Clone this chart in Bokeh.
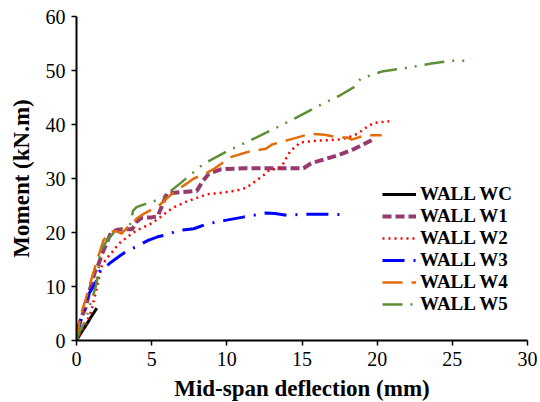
from bokeh.plotting import figure
from bokeh.models import Range1d, Legend, LegendItem, FixedTicker
from bokeh.embed import file_html
from bokeh.resources import INLINE

# ---- data (mid-span deflection in mm, moment in kN.m) ----
wc_x = [0, 0.3, 0.7, 1.0, 1.35]
wc_y = [0, 1.4, 3.1, 4.5, 6.0]

w1_x = [0, 0.15, 0.35, 0.6, 0.9, 1.2, 1.45, 1.7, 2.0, 2.3, 2.7, 3.2, 3.7, 4.0, 4.3, 5.0, 5.4, 5.7, 6.0, 7.0, 8.0, 8.4, 8.8, 9.6, 11.2, 13.0, 15.1, 15.6, 16.3, 17.4, 18.5, 19.7]
w1_y = [0, 2.5, 4.5, 6.0, 9.5, 12.5, 14.0, 16.0, 18.0, 20.0, 20.5, 20.6, 20.6, 22.0, 22.7, 22.8, 23.0, 25.0, 27.2, 27.5, 27.7, 29.5, 30.9, 31.7, 31.9, 31.9, 31.9, 32.8, 33.4, 34.3, 35.5, 37.2]

w2_x = [0, 0.3, 0.6, 0.9, 1.05, 1.27, 1.5, 1.7, 2.0, 2.3, 2.8, 3.4, 4.0, 4.7, 5.0, 5.6, 6.0, 6.5, 7.2, 8.0, 8.7, 9.5, 10.7, 11.3, 11.9, 12.4, 12.8, 13.6, 13.9, 14.2, 14.9, 16.0, 17.4, 18.0, 18.7, 19.3, 19.8, 20.8]
w2_y = [0, 1.5, 3.0, 4.8, 6.2, 8.7, 11.7, 13.9, 15.2, 16.1, 17.9, 19.2, 20.4, 21.3, 21.7, 22.9, 23.8, 24.7, 25.6, 26.4, 27.1, 27.3, 27.8, 28.3, 29.5, 30.5, 31.5, 32.0, 33.5, 35.0, 36.7, 37.0, 37.2, 37.5, 38.3, 39.5, 40.3, 40.6]

w3_x = [0, 0.1, 0.25, 0.5, 0.8, 1.1, 1.4, 1.6, 2.0, 2.3, 2.8, 3.4, 4.0, 4.8, 5.4, 6.0, 6.8, 7.8, 8.7, 9.8, 11.0, 12.0, 12.6, 13.2, 14.0, 15.1, 16.0, 16.7, 17.7]
w3_y = [0, 2.0, 3.5, 5.5, 8.5, 9.9, 11.4, 13.3, 13.8, 14.5, 15.5, 16.7, 17.4, 18.6, 19.2, 19.6, 20.4, 20.7, 21.6, 22.2, 22.8, 23.3, 23.6, 23.5, 23.2, 23.4, 23.4, 23.4, 23.3]

w4_x = [0, 0.05, 0.3, 0.6, 0.9, 1.27, 1.5, 1.8, 2.27, 2.6, 3.0, 3.4, 3.7, 4.0, 4.5, 4.9, 5.3, 6.0, 6.5, 7.3, 7.8, 8.5, 9.15, 10.3, 11.5, 12.6, 13.0, 14.3, 15.6, 16.5, 17.4, 18.0, 18.3, 19.2, 20.3]
w4_y = [0, 1.0, 4.9, 7.5, 10.5, 13.9, 16.0, 18.6, 20.1, 20.3, 19.8, 21.0, 21.5, 22.6, 23.5, 24.1, 24.5, 26.3, 27.5, 29.0, 30.0, 30.8, 31.8, 34.0, 35.0, 35.5, 36.3, 37.3, 38.3, 38.1, 37.6, 37.6, 37.2, 38.0, 38.0]

w5_x = [0, 0.2, 0.6, 0.9, 1.27, 1.45, 1.55, 1.8, 2.05, 2.5, 3.0, 3.5, 3.65, 3.75, 4.0, 4.6, 5.0, 5.8, 6.9, 8.5, 10.0, 11.6, 13.0, 14.5, 16.0, 17.6, 18.5, 18.9, 20.3, 22.0, 23.6, 24.9, 26.3]
w5_y = [0, 1.5, 3.7, 6.5, 9.9, 12.5, 16.0, 17.5, 18.6, 20.0, 20.8, 21.2, 22.0, 24.0, 24.7, 25.3, 25.6, 26.6, 29.1, 32.8, 35.0, 37.1, 39.0, 41.1, 43.3, 45.5, 47.0, 48.5, 49.8, 50.5, 51.3, 51.8, 51.8]

labels = ["WALL WC", "WALL W1", "WALL W2", "WALL W3", "WALL W4", "WALL W5"]
x_ticks = [0, 5, 10, 15, 20, 25, 30]
y_ticks = [0, 10, 20, 30, 40, 50, 60]

FONT = "'Liberation Serif', 'Times New Roman', serif"

p = figure(width=538, height=400, output_backend="svg", toolbar_location=None,
           x_range=Range1d(0, 30), y_range=Range1d(0, 60),
           min_border_left=76, min_border_right=11, min_border_top=16, min_border_bottom=60)
p.frame_width = 451
p.frame_height = 324
p.outline_line_color = None
p.grid.visible = False
p.background_fill_color = "white"
p.border_fill_color = "white"

for ax in (p.xaxis[0], p.yaxis[0]):
    ax.axis_line_color = "black"
    ax.axis_line_width = 2
    ax.major_tick_line_color = "black"
    ax.major_tick_line_width = 1.5
    ax.major_tick_out = 5
    ax.major_tick_in = 0
    ax.minor_tick_line_color = None
    ax.major_label_text_font = FONT
    ax.major_label_text_font_size = "20px"
    ax.major_label_text_color = "black"
    ax.axis_label_text_font = FONT
    ax.axis_label_text_font_size = "23px"
    ax.axis_label_text_font_style = "bold"
    ax.axis_label_text_color = "black"

p.xaxis.ticker = FixedTicker(ticks=x_ticks)
p.yaxis.ticker = FixedTicker(ticks=y_ticks)
p.xaxis.axis_label = "Mid-span deflection (mm)"
p.yaxis.axis_label = "Moment (kN.m)"
p.xaxis.major_label_standoff = 6
p.yaxis.major_label_standoff = 6
p.xaxis.axis_label_standoff = 7
p.yaxis.axis_label_standoff = 9

r_wc = p.line(wc_x, wc_y, line_color="black", line_width=3)
r_w1 = p.line(w1_x, w1_y, line_color="#953A6E", line_width=4, line_dash="9 4")
r_w2 = p.line(w2_x, w2_y, line_color="#FF0000", line_width=2.5, line_dash="2 4")
r_w3 = p.line(w3_x, w3_y, line_color="#0000FF", line_width=3, line_dash="22 9 2 9")
r_w4 = p.line(w4_x, w4_y, line_color="#E36C0A", line_width=2.5, line_dash="20 9")
r_w5 = p.line(w5_x, w5_y, line_color="#5F8F33", line_width=2.5, line_dash="20 8 2 8 2 8")

renderers = [r_wc, r_w1, r_w2, r_w3, r_w4, r_w5]
legend = Legend(items=[LegendItem(label=l, renderers=[r]) for l, r in zip(labels, renderers)],
                location=(306, 25))
legend.padding = 0
legend.margin = 0
legend.spacing = 0
legend.border_line_alpha = 0
legend.background_fill_alpha = 0
legend.glyph_width = 34
legend.glyph_height = 22
legend.label_height = 22
legend.label_standoff = 4
legend.label_text_font = FONT
legend.label_text_font_size = "19px"
legend.label_text_font_style = "bold"
legend.label_text_color = "black"
p.add_layout(legend, "center")

open("out.html", "w").write(file_html(p, INLINE))
